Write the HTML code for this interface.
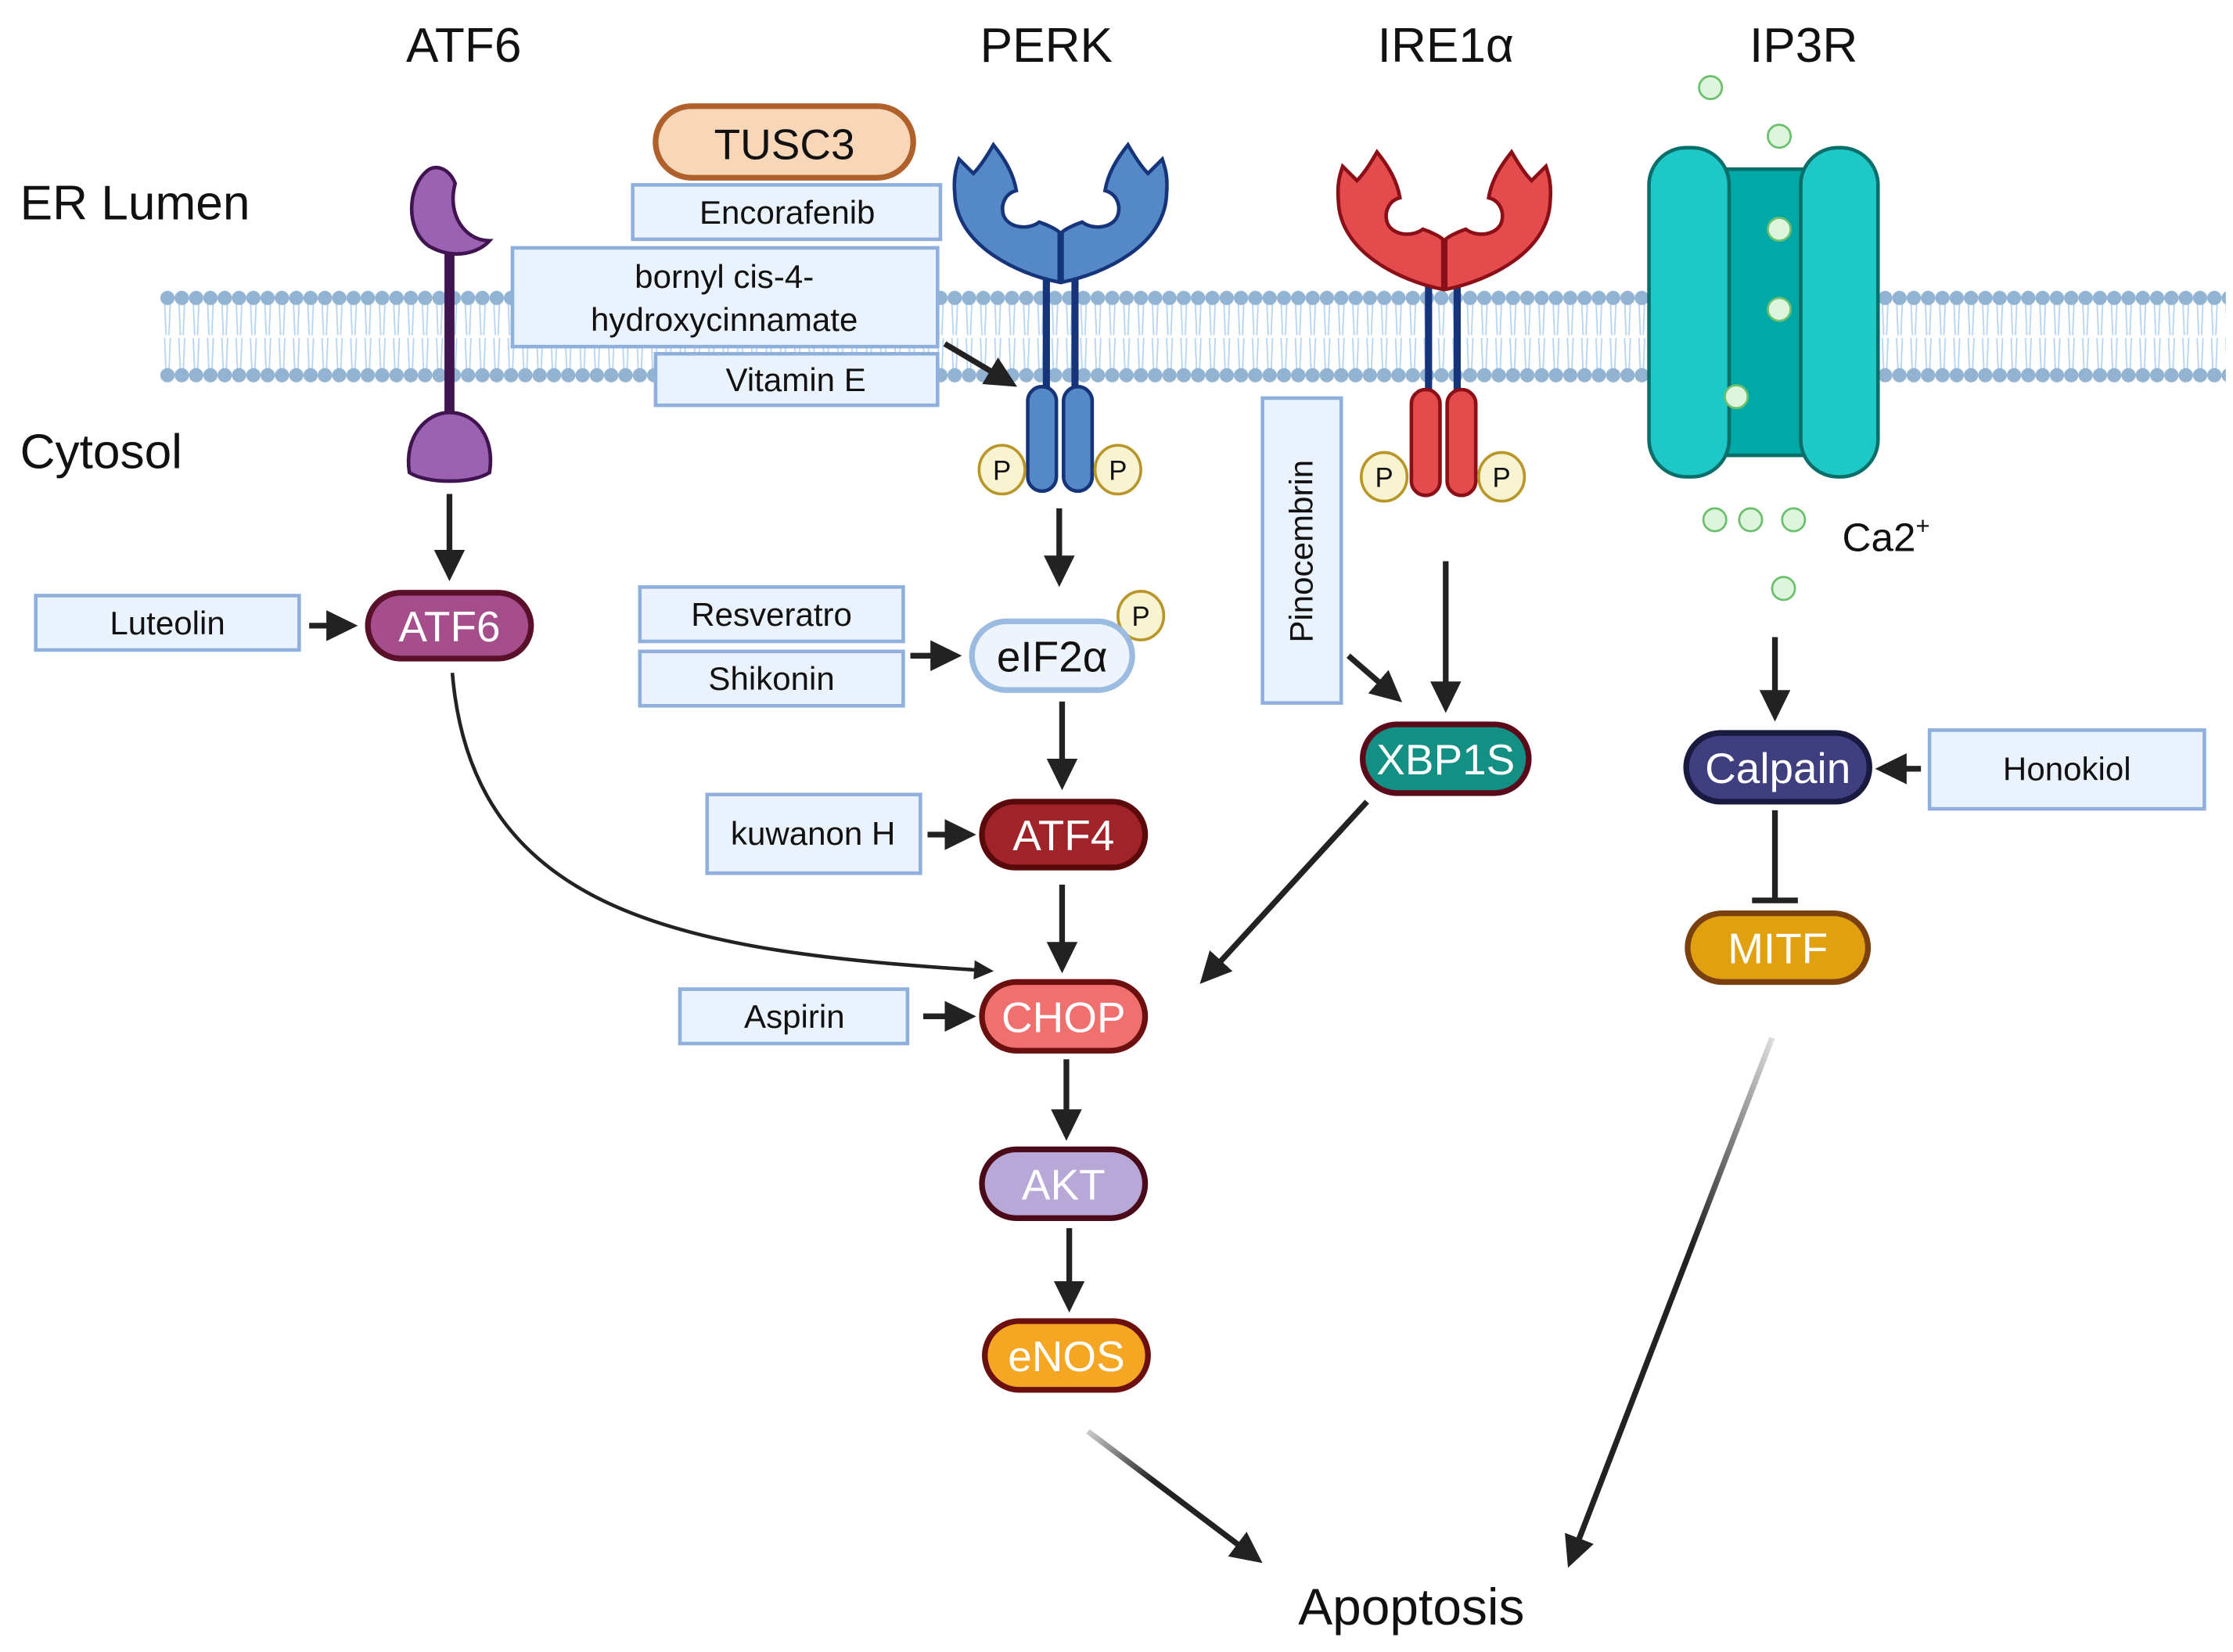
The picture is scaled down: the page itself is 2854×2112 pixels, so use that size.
<!DOCTYPE html>
<html><head><meta charset="utf-8"><style>
html,body{margin:0;padding:0;background:#fff}
svg{display:block}
text{font-family:"Liberation Sans","DejaVu Sans",sans-serif}
</style></head><body>
<svg width="2854" height="2112" viewBox="0 0 1560 1154" xmlns="http://www.w3.org/2000/svg">
<defs>
<pattern id="mem" x="112" y="200" width="10" height="70" patternUnits="userSpaceOnUse">
<path d="M3,10 L4,34 M7,10 L6,34 M3,36 L4,60 M7,36 L6,60" stroke="#b6d4f2" stroke-width="1" fill="none"/>
<circle cx="5" cy="8" r="5" fill="#93b3d3"/>
<circle cx="5" cy="62" r="5" fill="#93b3d3"/>
</pattern>
<marker id="ah" markerWidth="6" markerHeight="6" refX="3" refY="3" orient="auto" markerUnits="strokeWidth"><path d="M0,0.3 L5.5,3 L0,5.7 Z" fill="#222"/></marker>
<linearGradient id="g1" x1="0" y1="0" x2="1" y2="1"><stop offset="0" stop-color="#ccc"/><stop offset="0.4" stop-color="#222"/></linearGradient>
<linearGradient id="g2" x1="1" y1="0" x2="0" y2="1"><stop offset="0" stop-color="#ddd"/><stop offset="0.4" stop-color="#222"/></linearGradient>
<path id="lobe" d="M0,0 C-30,-6 -72,-26 -73,-62 C-74,-74 -72,-80 -70,-86 L-60,-76 C-55,-81 -50,-89 -46,-96 C-38,-86 -32,-76 -30,-64 C-38,-62 -41,-54 -39,-47 C-36,-38 -22,-36 -14,-42 C-8,-40 -2,-37 0,-35 Z"/>
</defs>

<rect x="112" y="200" width="1443" height="70" fill="url(#mem)"/>

<g font-size="34" fill="#111" text-anchor="middle">
<text x="324" y="43">ATF6</text><text x="731" y="43">PERK</text><text x="1010" y="43">IRE1α</text><text x="1260" y="43">IP3R</text>
</g>
<text x="14" y="153" font-size="34" fill="#111">ER Lumen</text>
<text x="14" y="327" font-size="34" fill="#111">Cytosol</text>
<text x="986" y="1135" font-size="36" fill="#111" text-anchor="middle">Apoptosis</text>
<text x="1287" y="385" font-size="28" fill="#111">Ca2<tspan font-size="17" dy="-12">+</tspan></text>

<line x1="314" y1="165" x2="314" y2="295" stroke="#3f1450" stroke-width="7"/>
<path d="M300,118 C285,128 282,160 300,172 C318,182 335,176 342,168 C325,168 312,150 318,128 C314,118 306,115 300,118 Z" fill="#9a62b0" stroke="#3f1450" stroke-width="2.5"/>
<path d="M286,330 C282,305 298,288 314,288 C332,288 346,305 342,330 C330,338 298,338 286,330 Z" fill="#9a62b0" stroke="#3f1450" stroke-width="2.5"/>

<g fill="#5489c6" stroke="#16347a" stroke-width="2.5">
<line x1="731" y1="195" x2="731" y2="275" stroke-width="5"/>
<line x1="751" y1="195" x2="751" y2="275" stroke-width="5"/>
<use href="#lobe" transform="translate(740,197)"/>
<use href="#lobe" transform="translate(742,197) scale(-1,1)"/>
<rect x="718" y="270" width="20" height="73" rx="10"/>
<rect x="743" y="270" width="20" height="73" rx="10"/>
</g>
<g fill="#e34b4d" stroke="#8a0f16" stroke-width="2.5">
<line x1="998" y1="198" x2="998" y2="280" stroke="#16347a" stroke-width="5"/>
<line x1="1018" y1="198" x2="1018" y2="280" stroke="#16347a" stroke-width="5"/>
<use href="#lobe" transform="translate(1008,202)"/>
<use href="#lobe" transform="translate(1010,202) scale(-1,1)"/>
<rect x="986" y="272" width="20" height="74" rx="10"/>
<rect x="1011" y="272" width="20" height="74" rx="10"/>
</g>
<g fill="#f8f3d0" stroke="#b8962a" stroke-width="2">
<ellipse cx="700" cy="328" rx="16" ry="17"/><ellipse cx="781" cy="328" rx="16" ry="17"/>
<ellipse cx="967" cy="333" rx="16" ry="17"/><ellipse cx="1049" cy="333" rx="16" ry="17"/>
<ellipse cx="797" cy="430" rx="16" ry="17"/>
</g>
<g font-size="19" fill="#111" text-anchor="middle">
<text x="700" y="335">P</text><text x="781" y="335">P</text><text x="967" y="340">P</text><text x="1049" y="340">P</text><text x="797" y="437">P</text>
</g>

<rect x="1195" y="118" width="80" height="200" fill="#00a9a5" stroke="#0a6e6a" stroke-width="2.5"/>
<rect x="1152" y="103" width="56" height="230" rx="26" fill="#1ec8c6" stroke="#0a6e6a" stroke-width="2.5"/>
<rect x="1258" y="103" width="54" height="230" rx="26" fill="#1ec8c6" stroke="#0a6e6a" stroke-width="2.5"/>
<g fill="#dcf5dc" stroke="#6cbf6c" stroke-width="1.5">
<circle cx="1195" cy="61" r="8"/><circle cx="1243" cy="95" r="8"/><circle cx="1243" cy="160" r="8"/><circle cx="1243" cy="216" r="8"/><circle cx="1213" cy="277" r="8"/>
<circle cx="1198" cy="363" r="8"/><circle cx="1223" cy="363" r="8"/><circle cx="1253" cy="363" r="8"/><circle cx="1246" cy="411" r="8"/>
</g>

<rect x="458" y="74" width="180" height="50" rx="25" fill="#f8d6b8" stroke="#b0602a" stroke-width="4"/>
<text x="548" y="111" font-size="30" fill="#111" text-anchor="middle">TUSC3</text>

<g fill="#eaf3fd" stroke="#8fb0dc" stroke-width="2.5">
<rect x="442" y="129" width="215" height="38"/>
<rect x="358" y="173" width="297" height="69"/>
<rect x="458" y="247" width="197" height="36"/>
<rect x="25" y="416" width="184" height="38"/>
<rect x="447" y="410" width="184" height="38"/>
<rect x="447" y="455" width="184" height="38"/>
<rect x="494" y="555" width="149" height="55"/>
<rect x="475" y="691" width="159" height="38"/>
<rect x="882" y="278" width="55" height="213"/>
<rect x="1348" y="510" width="192" height="55"/>
</g>
<g font-size="23" fill="#111" text-anchor="middle">
<text x="550" y="156">Encorafenib</text>
<text x="506" y="201">bornyl cis-4-</text>
<text x="506" y="231">hydroxycinnamate</text>
<text x="556" y="273">Vitamin E</text>
<text x="117" y="443">Luteolin</text>
<text x="539" y="437">Resveratro</text>
<text x="539" y="482">Shikonin</text>
<text x="568" y="590">kuwanon H</text>
<text x="555" y="718">Aspirin</text>
<text x="1444" y="545">Honokiol</text>
<text transform="translate(917,385) rotate(-90)">Pinocembrin</text>
</g>

<g stroke="#222" stroke-width="4" fill="none" marker-end="url(#ah)">
<line x1="314" y1="345" x2="314" y2="396"/>
<line x1="216" y1="437" x2="240" y2="437"/>
<line x1="740" y1="355" x2="740" y2="400"/>
<line x1="636" y1="458" x2="662" y2="458"/>
<line x1="742" y1="490" x2="742" y2="542"/>
<line x1="648" y1="583" x2="672" y2="583"/>
<line x1="742" y1="618" x2="742" y2="670"/>
<line x1="645" y1="710" x2="672" y2="710"/>
<line x1="745" y1="740" x2="745" y2="787"/>
<line x1="747" y1="858" x2="747" y2="907"/>
<line x1="1010" y1="392" x2="1010" y2="488"/>
<line x1="942" y1="458" x2="972" y2="484"/>
<line x1="660" y1="240" x2="702" y2="265"/>
<line x1="1240" y1="445" x2="1240" y2="494"/>
<line x1="1342" y1="537" x2="1320" y2="537"/>
<line x1="955" y1="560" x2="845" y2="680"/>
<path d="M316,470 C330,640 480,665 688,678" stroke-width="2.5"/>
<line x1="760" y1="1000" x2="874" y2="1086" stroke="url(#g1)"/>
<line x1="1238" y1="725" x2="1099" y2="1086" stroke="url(#g2)"/>
</g>
<line x1="1240" y1="566" x2="1240" y2="628" stroke="#222" stroke-width="4"/>
<line x1="1224" y1="629" x2="1256" y2="629" stroke="#222" stroke-width="4"/>

<g stroke-width="4">
<rect x="257" y="414" width="114" height="46" rx="23" fill="#a64d8c" stroke="#5a0f2a"/>
<rect x="679" y="434" width="112" height="48" rx="24" fill="#eef4fb" stroke="#9bbbe0"/>
<rect x="686" y="560" width="114" height="46" rx="23" fill="#a0232a" stroke="#5a0a0a"/>
<rect x="686" y="686" width="114" height="48" rx="24" fill="#f07070" stroke="#6b0f0f"/>
<rect x="686" y="803" width="114" height="48" rx="24" fill="#b8a8d8" stroke="#4a0a1a"/>
<rect x="688" y="923" width="114" height="48" rx="24" fill="#f5a623" stroke="#6b0f0f"/>
<rect x="952" y="506" width="116" height="48" rx="24" fill="#138f84" stroke="#5a0a1a"/>
<rect x="1178" y="512" width="128" height="48" rx="24" fill="#3f3f80" stroke="#1a1a40"/>
<rect x="1179" y="638" width="126" height="48" rx="24" fill="#e0a010" stroke="#7a4010"/>
</g>
<g font-size="30" text-anchor="middle" fill="#fff">
<text x="314" y="448">ATF6</text>
<text x="735" y="469" fill="#111">eIF2α</text>
<text x="743" y="594">ATF4</text>
<text x="743" y="721">CHOP</text>
<text x="743" y="838">AKT</text>
<text x="745" y="958">eNOS</text>
<text x="1010" y="541">XBP1S</text>
<text x="1242" y="547">Calpain</text>
<text x="1242" y="673">MITF</text>
</g>
</svg>
</body></html>
